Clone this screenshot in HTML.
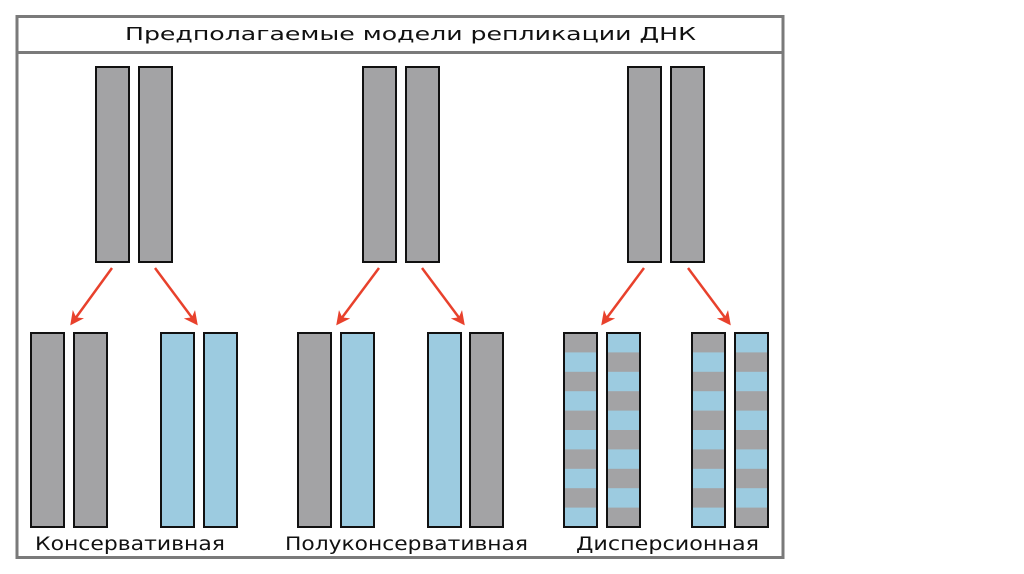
<!DOCTYPE html>
<html><head><meta charset="utf-8"><style>
html,body{margin:0;padding:0;background:#fff;width:1024px;height:574px;overflow:hidden}
</style></head><body>
<svg width="1024" height="574" xmlns="http://www.w3.org/2000/svg">
<defs>
<marker id="ah" markerWidth="14" markerHeight="14" refX="11" refY="7" orient="auto" markerUnits="userSpaceOnUse"><path d="M0,0 L14,7 L0,14 L4,7 Z" fill="#e8412c"/></marker>
</defs>
<rect x="17" y="16.5" width="766" height="541" fill="#fff" stroke="#7a7a7a" stroke-width="3"/>
<line x1="17" y1="52.5" x2="783" y2="52.5" stroke="#7a7a7a" stroke-width="3"/>
<text x="125" y="40" textLength="571" lengthAdjust="spacingAndGlyphs" font-family="DejaVu Sans, sans-serif" font-size="18" fill="#111">Предполагаемые модели репликации ДНК</text>
<g stroke="#111" stroke-width="2" fill="#a3a3a5">
<rect x="96" y="67" width="33" height="195"/><rect x="139" y="67" width="33" height="195"/>
<rect x="363" y="67" width="33" height="195"/><rect x="406" y="67" width="33" height="195"/>
<rect x="628" y="67" width="33" height="195"/><rect x="671" y="67" width="33" height="195"/>
<rect x="31" y="333" width="33" height="194"/><rect x="74" y="333" width="33" height="194"/>
<rect x="161" y="333" width="33" height="194" fill="#9ccbe0"/><rect x="204" y="333" width="33" height="194" fill="#9ccbe0"/>
<rect x="298" y="333" width="33" height="194"/><rect x="341" y="333" width="33" height="194" fill="#9ccbe0"/>
<rect x="428" y="333" width="33" height="194" fill="#9ccbe0"/><rect x="470" y="333" width="33" height="194"/>
</g>
<g>
<rect x="564" y="333" width="33" height="194" fill="#9ccbe0"/>
<rect x="607" y="333" width="33" height="194" fill="#9ccbe0"/>
<rect x="692" y="333" width="33" height="194" fill="#9ccbe0"/>
<rect x="735" y="333" width="33" height="194" fill="#9ccbe0"/>
<g fill="#a3a3a5">
<rect x="564" y="333" width="33" height="19.4"/><rect x="564" y="371.8" width="33" height="19.4"/><rect x="564" y="410.6" width="33" height="19.4"/><rect x="564" y="449.4" width="33" height="19.4"/><rect x="564" y="488.2" width="33" height="19.4"/>
<rect x="607" y="352.4" width="33" height="19.4"/><rect x="607" y="391.2" width="33" height="19.4"/><rect x="607" y="430" width="33" height="19.4"/><rect x="607" y="468.8" width="33" height="19.4"/><rect x="607" y="507.6" width="33" height="19.4"/>
<rect x="692" y="333" width="33" height="19.4"/><rect x="692" y="371.8" width="33" height="19.4"/><rect x="692" y="410.6" width="33" height="19.4"/><rect x="692" y="449.4" width="33" height="19.4"/><rect x="692" y="488.2" width="33" height="19.4"/>
<rect x="735" y="352.4" width="33" height="19.4"/><rect x="735" y="391.2" width="33" height="19.4"/><rect x="735" y="430" width="33" height="19.4"/><rect x="735" y="468.8" width="33" height="19.4"/><rect x="735" y="507.6" width="33" height="19.4"/>
</g>
<g fill="none" stroke="#111" stroke-width="2">
<rect x="564" y="333" width="33" height="194"/><rect x="607" y="333" width="33" height="194"/>
<rect x="692" y="333" width="33" height="194"/><rect x="735" y="333" width="33" height="194"/>
</g>
</g>
<g stroke="#e8412c" stroke-width="2.5" marker-end="url(#ah)">
<line x1="112" y1="268" x2="72" y2="323"/><line x1="155" y1="268" x2="196" y2="323"/>
<line x1="379" y1="268" x2="338" y2="323"/><line x1="422" y1="268" x2="463" y2="323"/>
<line x1="644" y1="268" x2="603" y2="323"/><line x1="688" y1="268" x2="729" y2="323"/>
</g>
<g font-family="DejaVu Sans, sans-serif" font-size="19" fill="#111">
<text x="35" y="550" textLength="190" lengthAdjust="spacingAndGlyphs">Консервативная</text>
<text x="285" y="550" textLength="243" lengthAdjust="spacingAndGlyphs">Полуконсервативная</text>
<text x="576" y="550" textLength="183" lengthAdjust="spacingAndGlyphs">Дисперсионная</text>
</g>
</svg>
</body></html>
